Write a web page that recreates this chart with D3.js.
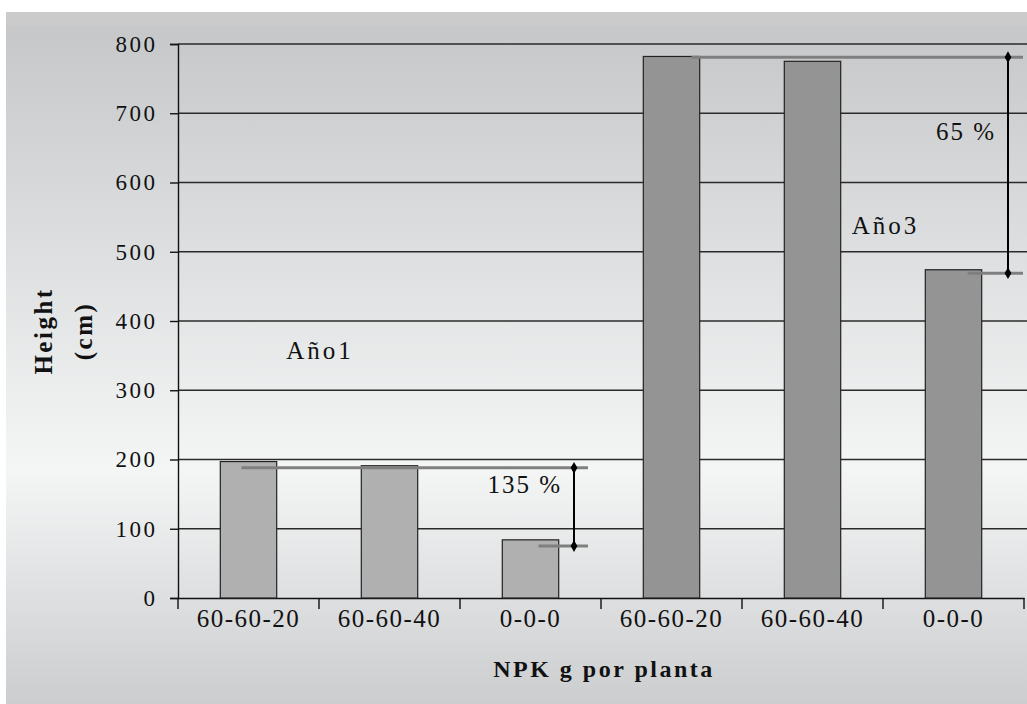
<!DOCTYPE html>
<html>
<head>
<meta charset="utf-8">
<script src="https://cdn.jsdelivr.net/npm/d3@7"></script>
<style>
  body { margin: 0; background: #fff; }
  text { font-family: "Liberation Serif", "Times New Roman", Times, serif; fill: #111; }
  .ejeY .tick text { font-size: 23px; letter-spacing: 2.5px; }
  .ejeX .tick text { font-size: 25px; letter-spacing: 1.5px; }
  .anio { font-size: 25px; letter-spacing: 3px; }
  .pct { font-size: 25px; letter-spacing: 2px; }
  .titulo { font-size: 24px; font-weight: bold; letter-spacing: 2.5px; }
  .tituloY { font-size: 25px; font-weight: bold; letter-spacing: 2.5px; }
</style>
</head>
<body>
<div id="graf"></div>
<script>
// Datos
const categorias = ["60-60-20", "60-60-40", "0-0-0", "60-60-20", "60-60-40", "0-0-0"]
const anios = ["Año1", "Año1", "Año1", "Año3", "Año3", "Año3"]
const alturas = [197, 191, 84, 782, 775, 474]
const yTicks = [0, 100, 200, 300, 400, 500, 600, 700, 800]
// Diferencias entre tratamientos (valores de referencia)
const refAlto = [188, 781]
const refBajo = [75, 469]
const refTexto = ["135 %", "65 %"]

// Dimensiones
const anchoTotal = 1027
const altoTotal = 704
const margins = { top: 44, right: 3, bottom: 106, left: 178 }
const ancho = anchoTotal - margins.left - margins.right
const alto = altoTotal - margins.top - margins.bottom

const svg = d3.select("#graf")
  .append("svg")
  .attr("width", anchoTotal)
  .attr("height", altoTotal)

// Fondo degradado
const defs = svg.append("defs")
const grad = defs.append("linearGradient")
  .attr("id", "fondo")
  .attr("x1", 0).attr("y1", 0).attr("x2", 0).attr("y2", 1)
grad.append("stop").attr("offset", "0%").attr("stop-color", "#c5c6c8")
grad.append("stop").attr("offset", "66%").attr("stop-color", "#f4f5f5")
grad.append("stop").attr("offset", "100%").attr("stop-color", "#cccdcf")

svg.append("rect")
  .attr("x", 6).attr("y", 12)
  .attr("width", anchoTotal - 6).attr("height", altoTotal - 12)
  .attr("fill", "url(#fondo)")
svg.append("rect")
  .attr("x", 6).attr("y", 12)
  .attr("width", anchoTotal - 6).attr("height", 14)
  .attr("fill", "#cbcbcc")

const g = svg.append("g")
  .attr("transform", `translate(${margins.left}, ${margins.top})`)

// Escaladores
const x = d3.scaleBand()
  .domain(d3.range(categorias.length))
  .range([0, ancho])
  .paddingInner(0.6)
  .paddingOuter(0.3)
const xTicks = d3.scaleBand().domain(d3.range(categorias.length)).range([0, ancho])
const y = d3.scaleLinear().domain([0, 800]).range([alto, 0])

// Lineas de cuadricula
g.append("g")
  .selectAll("line")
  .data(yTicks.slice(1))
  .join("line")
  .attr("x1", 0)
  .attr("x2", ancho + margins.right)
  .attr("y1", (d) => y(d))
  .attr("y2", (d) => y(d))
  .attr("stroke", "#2a2a2a")
  .attr("stroke-width", 1.4)

// Ejes
const yAxis = d3.axisLeft(y).tickValues(yTicks).tickSize(8).tickPadding(12.5)
const yAxisGroup = g.append("g").attr("class", "ejeY").call(yAxis)
yAxisGroup.select(".domain").attr("stroke", "#111").attr("stroke-width", 1.4)
yAxisGroup.selectAll(".tick line").attr("stroke", "#111").attr("stroke-width", 1.4)
yAxisGroup.selectAll(".tick text").attr("fill", "#111")

const xAxis = d3.axisBottom(xTicks)
  .tickFormat((i) => categorias[i])
  .tickSize(0)
  .tickPadding(11)
const xAxisGroup = g.append("g")
  .attr("class", "ejeX")
  .attr("transform", `translate(0, ${alto})`)
  .call(xAxis)
xAxisGroup.select(".domain").attr("stroke", "#111").attr("stroke-width", 1.4)
xAxisGroup.selectAll(".tick text").attr("fill", "#111")
// marcas entre categorias
xAxisGroup.selectAll(".sep")
  .data(d3.range(categorias.length + 1))
  .join("line")
  .attr("x1", (i) => i * xTicks.step())
  .attr("x2", (i) => i * xTicks.step())
  .attr("y1", 0)
  .attr("y2", 11)
  .attr("stroke", "#111")
  .attr("stroke-width", 1.4)

// Barras
g.append("g")
  .selectAll("rect")
  .data(alturas)
  .join("rect")
  .attr("x", (d, i) => x(i))
  .attr("y", (d) => y(d))
  .attr("width", x.bandwidth())
  .attr("height", (d) => alto - y(d))
  .attr("fill", (d, i) => (anios[i] === "Año1" ? "#b0b0b0" : "#949494"))
  .attr("stroke", "#222")
  .attr("stroke-width", 1.2)

// Lineas de referencia
const step = xTicks.step()
const grupos = [
  { ini: x(0) + x.bandwidth() / 2 - 7, fin: 3 * step - 13, bajoIni: x(2) + x.bandwidth() / 2 + 8, vert: 3 * step - 27, dy: 25.5 },
  { ini: x(3) + x.bandwidth() - 8, fin: 6 * step - 1, bajoIni: x(5) + x.bandwidth() - 14, vert: 6 * step - 16, dy: 83 },
]
grupos.forEach((p, k) => {
  g.append("line")
    .attr("x1", p.ini).attr("x2", p.fin)
    .attr("y1", y(refAlto[k])).attr("y2", y(refAlto[k]))
    .attr("stroke", "#7f7f7f").attr("stroke-width", 3)
  g.append("line")
    .attr("x1", p.bajoIni).attr("x2", p.fin)
    .attr("y1", y(refBajo[k])).attr("y2", y(refBajo[k]))
    .attr("stroke", "#7f7f7f").attr("stroke-width", 3)
  g.append("line")
    .attr("x1", p.vert).attr("x2", p.vert)
    .attr("y1", y(refAlto[k])).attr("y2", y(refBajo[k]))
    .attr("stroke", "#000").attr("stroke-width", 2)
  ;[refAlto[k], refBajo[k]].forEach((v) => {
    g.append("path")
      .attr("d", d3.symbol(d3.symbolDiamond, 40)())
      .attr("transform", `translate(${p.vert}, ${y(v)})`)
      .attr("fill", "#000")
  })
  g.append("text")
    .attr("class", "pct")
    .attr("x", p.vert - 12)
    .attr("y", y(refAlto[k]) + p.dy)
    .attr("text-anchor", "end")
    .text(refTexto[k])
})

// Etiquetas de año
g.append("text").attr("class", "anio")
  .attr("x", x(1) - 75).attr("y", y(345))
  .text("Año1")
g.append("text").attr("class", "anio")
  .attr("x", x(4) + x.bandwidth() + 11).attr("y", y(526))
  .text("Año3")

// Titulos de ejes
svg.append("text").attr("class", "titulo")
  .attr("x", 604).attr("y", 677)
  .attr("text-anchor", "middle")
  .text("NPK g por planta")

const yt = svg.append("text").attr("class", "tituloY")
  .attr("transform", "translate(52, 331) rotate(-90)")
  .attr("text-anchor", "middle")
yt.append("tspan").attr("x", 0).attr("dy", 0).text("Height")
yt.append("tspan").attr("x", 0).attr("dy", 40).text("(cm)")
</script>
</body>
</html>
